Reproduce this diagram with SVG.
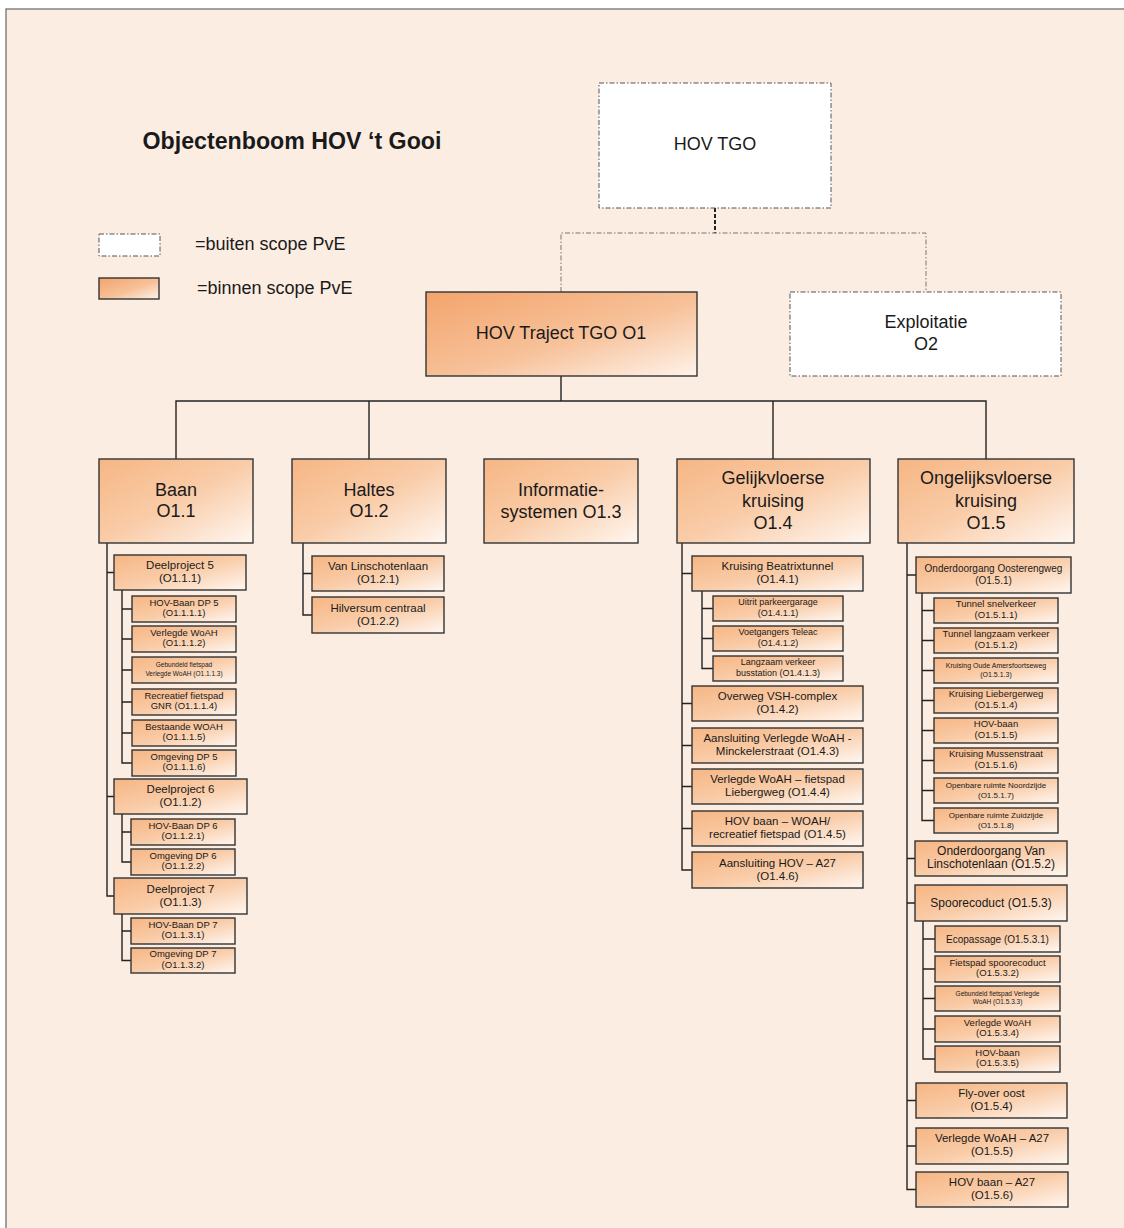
<svg xmlns="http://www.w3.org/2000/svg" width="1124" height="1228" viewBox="0 0 1124 1228">
  <defs>
    <linearGradient id="g" x1="0" y1="0" x2="1" y2="1">
      <stop offset="0" stop-color="#F6B684"/>
      <stop offset="0.5" stop-color="#F9CCA8"/>
      <stop offset="1" stop-color="#FFF7F1"/>
    </linearGradient>
    <linearGradient id="g1" x1="0" y1="0" x2="1" y2="1">
      <stop offset="0" stop-color="#F3A46C"/>
      <stop offset="0.55" stop-color="#F7C199"/>
      <stop offset="1" stop-color="#FEF3EA"/>
    </linearGradient>
    <style>
      text { font-family: "Liberation Sans", Arial, sans-serif; fill: #1a1a1a; text-anchor: middle; }
      .box { fill: url(#g); stroke: #333; stroke-width: 1.4; }
      .boxD { fill: url(#g1); stroke: #333; stroke-width: 1.4; }
      .out { fill: #fff; stroke: #555; stroke-width: 1; stroke-dasharray: 5 2 1.5 2; }
      .conn { fill: none; stroke: #222; stroke-width: 1.4; }
      .dconn { fill: none; stroke: #777; stroke-width: 1; stroke-dasharray: 5 2 1.5 2; }
      .dconnB { fill: none; stroke: #222; stroke-width: 2; stroke-dasharray: 4 2; }
      .t18 { font-size: 18px; }
      .t12 { font-size: 12px; }
      .t11 { font-size: 11.5px; }
      .t10 { font-size: 10px; }
      .t9 { font-size: 9.5px; }
      .t9s { font-size: 9px; }
      .t8 { font-size: 8px; }
      .t7 { font-size: 7px; }
      .t6 { font-size: 6.5px; }
    </style>
  </defs>

  <!-- page frame -->
  <rect x="0" y="0" width="1124" height="1228" fill="#fff"/>
  <rect x="6" y="9" width="1130" height="1230" fill="#FCEDE2" stroke="#666" stroke-width="1.2"/>

  <!-- title and legend -->
  <text x="292" y="149" style="font-size:23.2px;font-weight:bold">Objectenboom HOV ‘t Gooi</text>
  <g id="legend">
    <rect class="out" x="99" y="234" width="61" height="22"/>
    <text x="195" y="250" style="font-size:18px;text-anchor:start">=buiten scope PvE</text>
    <rect class="boxD" x="99" y="278" width="60" height="21"/>
    <text x="197" y="294" style="font-size:18px;text-anchor:start">=binnen scope PvE</text>
  </g>

  <!-- connectors -->
  <g id="connectors">
    <path class="dconnB" d="M715,208 V233"/>
    <path class="dconn" d="M561,292 V233 H926 V292"/>
    <path class="conn" d="M561,376 V401 M176,460 V401 H986 V460 M369,401 V460 M773,401 V460"/>
    <!-- Baan -->
    <path class="conn" d="M107,543 V896 H114 M107,572.5 H114 M107,796.5 H114"/>
    <path class="conn" d="M122,590 V763 H132 M122,609 H132 M122,639 H132 M122,670 H132 M122,702 H132 M122,733 H132"/>
    <path class="conn" d="M122,814 V862 H131 M122,832 H131"/>
    <path class="conn" d="M122,914 V960.5 H131 M122,931 H131"/>
    <!-- Haltes -->
    <path class="conn" d="M303,543 V615 H312 M303,573.5 H312"/>
    <!-- Gelijkvloerse -->
    <path class="conn" d="M682,543 V870 H692 M682,573.5 H692 M682,703.5 H692 M682,745.5 H692 M682,786.5 H692 M682,828.5 H692"/>
    <path class="conn" d="M702,591 V668.5 H713 M702,608.5 H713 M702,638.5 H713"/>
    <!-- Ongelijksvloerse -->
    <path class="conn" d="M907,543 V1189.5 H916 M907,575 H916 M907,858.5 H915 M907,903 H915 M907,1100.5 H916 M907,1146 H916"/>
    <path class="conn" d="M922,593 V820.5 H934 M922,610.5 H934 M922,640.5 H934 M922,670.5 H934 M922,700.5 H934 M922,730.5 H934 M922,760.5 H934 M922,790.5 H934"/>
    <path class="conn" d="M923,921 V1059 H935 M923,939 H935 M923,969 H935 M923,998.5 H935 M923,1029 H935"/>
  </g>

  <!-- top level -->
  <g id="hov-tgo">
    <rect class="out" x="599" y="83" width="232" height="125"/>
    <text class="t18" x="715" y="150">HOV TGO</text>
  </g>
  <g id="o1">
    <rect class="boxD" x="426" y="292" width="271" height="84"/>
    <text class="t18" x="561" y="339">HOV Traject TGO O1</text>
  </g>
  <g id="o2">
    <rect class="out" x="790" y="292" width="271" height="84"/>
    <text class="t18" x="926" y="328">Exploitatie</text>
    <text class="t18" x="926" y="350">O2</text>
  </g>

  <!-- level 2 -->
  <g id="o1-1">
    <rect class="box" x="99" y="459" width="154" height="84"/>
    <text class="t18" x="176" y="496">Baan</text>
    <text class="t18" x="176" y="517">O1.1</text>
  </g>
  <g id="o1-2">
    <rect class="box" x="292" y="459" width="154" height="84"/>
    <text class="t18" x="369" y="496">Haltes</text>
    <text class="t18" x="369" y="517">O1.2</text>
  </g>
  <g id="o1-3">
    <rect class="box" x="484" y="459" width="154" height="84"/>
    <text class="t18" x="561" y="496">Informatie-</text>
    <text class="t18" x="561" y="518">systemen O1.3</text>
  </g>
  <g id="o1-4">
    <rect class="box" x="677" y="459" width="193" height="84"/>
    <text class="t18" x="773" y="484">Gelijkvloerse</text>
    <text class="t18" x="773" y="506.5">kruising</text>
    <text class="t18" x="773" y="529">O1.4</text>
  </g>
  <g id="o1-5">
    <rect class="box" x="898" y="459" width="176" height="84"/>
    <text class="t18" x="986" y="484">Ongelijksvloerse</text>
    <text class="t18" x="986" y="506.5">kruising</text>
    <text class="t18" x="986" y="529">O1.5</text>
  </g>

  <!-- Baan subtree -->
  <g id="o1-1-1">
    <rect class="box" x="114" y="555" width="132" height="35"/>
    <text class="t11" x="180" y="569">Deelproject 5</text>
    <text class="t11" x="180" y="582">(O1.1.1)</text>
  </g>
  <g id="o1-1-1-1">
    <rect class="box" x="132" y="596" width="104" height="26"/>
    <text class="t9" x="184" y="605.5">HOV-Baan DP 5</text>
    <text class="t9" x="184" y="616">(O1.1.1.1)</text>
  </g>
  <g id="o1-1-1-2">
    <rect class="box" x="132" y="626" width="104" height="26"/>
    <text class="t9" x="184" y="635.5">Verlegde WoAH</text>
    <text class="t9" x="184" y="646">(O1.1.1.2)</text>
  </g>
  <g id="o1-1-1-3">
    <rect class="box" x="132" y="657" width="104" height="26"/>
    <text class="t6" x="184" y="667">Gebundeld fietspad</text>
    <text class="t6" x="184" y="675.5">Verlegde WoAH (O1.1.1.3)</text>
  </g>
  <g id="o1-1-1-4">
    <rect class="box" x="132" y="689" width="104" height="26"/>
    <text class="t9" x="184" y="698.5">Recreatief fietspad</text>
    <text class="t9" x="184" y="709">GNR (O1.1.1.4)</text>
  </g>
  <g id="o1-1-1-5">
    <rect class="box" x="132" y="720" width="104" height="26"/>
    <text class="t9" x="184" y="729.5">Bestaande WOAH</text>
    <text class="t9" x="184" y="740">(O1.1.1.5)</text>
  </g>
  <g id="o1-1-1-6">
    <rect class="box" x="132" y="750" width="104" height="26"/>
    <text class="t9" x="184" y="759.5">Omgeving DP 5</text>
    <text class="t9" x="184" y="770">(O1.1.1.6)</text>
  </g>
  <g id="o1-1-2">
    <rect class="box" x="114" y="779" width="133" height="35"/>
    <text class="t11" x="180.5" y="793">Deelproject 6</text>
    <text class="t11" x="180.5" y="806">(O1.1.2)</text>
  </g>
  <g id="o1-1-2-1">
    <rect class="box" x="131" y="819" width="104" height="26"/>
    <text class="t9" x="183" y="828.5">HOV-Baan DP 6</text>
    <text class="t9" x="183" y="839">(O1.1.2.1)</text>
  </g>
  <g id="o1-1-2-2">
    <rect class="box" x="131" y="849" width="104" height="26"/>
    <text class="t9" x="183" y="858.5">Omgeving DP 6</text>
    <text class="t9" x="183" y="869">(O1.1.2.2)</text>
  </g>
  <g id="o1-1-3">
    <rect class="box" x="114" y="878" width="133" height="36"/>
    <text class="t11" x="180.5" y="892.5">Deelproject 7</text>
    <text class="t11" x="180.5" y="905.5">(O1.1.3)</text>
  </g>
  <g id="o1-1-3-1">
    <rect class="box" x="131" y="918" width="104" height="26"/>
    <text class="t9" x="183" y="927.5">HOV-Baan DP 7</text>
    <text class="t9" x="183" y="938">(O1.1.3.1)</text>
  </g>
  <g id="o1-1-3-2">
    <rect class="box" x="131" y="948" width="104" height="25"/>
    <text class="t9" x="183" y="957">Omgeving DP 7</text>
    <text class="t9" x="183" y="967.5">(O1.1.3.2)</text>
  </g>

  <!-- Haltes subtree -->
  <g id="o1-2-1">
    <rect class="box" x="312" y="556" width="132" height="35"/>
    <text class="t11" x="378" y="570">Van Linschotenlaan</text>
    <text class="t11" x="378" y="583">(O1.2.1)</text>
  </g>
  <g id="o1-2-2">
    <rect class="box" x="312" y="597" width="132" height="36"/>
    <text class="t11" x="378" y="611.5">Hilversum centraal</text>
    <text class="t11" x="378" y="624.5">(O1.2.2)</text>
  </g>

  <!-- Gelijkvloerse subtree -->
  <g id="o1-4-1">
    <rect class="box" x="692" y="556" width="171" height="35"/>
    <text class="t11" x="777.5" y="570">Kruising Beatrixtunnel</text>
    <text class="t11" x="777.5" y="583">(O1.4.1)</text>
  </g>
  <g id="o1-4-1-1">
    <rect class="box" x="713" y="596" width="130" height="25"/>
    <text class="t9s" x="778" y="605">Uitrit parkeergarage</text>
    <text class="t9s" x="778" y="615.5">(O1.4.1.1)</text>
  </g>
  <g id="o1-4-1-2">
    <rect class="box" x="713" y="626" width="130" height="25"/>
    <text class="t9s" x="778" y="635">Voetgangers Teleac</text>
    <text class="t9s" x="778" y="645.5">(O1.4.1.2)</text>
  </g>
  <g id="o1-4-1-3">
    <rect class="box" x="713" y="656" width="130" height="25"/>
    <text class="t9s" x="778" y="665">Langzaam verkeer</text>
    <text class="t9s" x="778" y="675.5">busstation (O1.4.1.3)</text>
  </g>
  <g id="o1-4-2">
    <rect class="box" x="692" y="686" width="171" height="35"/>
    <text class="t11" x="777.5" y="700">Overweg VSH-complex</text>
    <text class="t11" x="777.5" y="713">(O1.4.2)</text>
  </g>
  <g id="o1-4-3">
    <rect class="box" x="692" y="728" width="171" height="35"/>
    <text class="t11" x="777.5" y="742">Aansluiting Verlegde WoAH -</text>
    <text class="t11" x="777.5" y="755">Minckelerstraat (O1.4.3)</text>
  </g>
  <g id="o1-4-4">
    <rect class="box" x="692" y="769" width="171" height="35"/>
    <text class="t11" x="777.5" y="783">Verlegde WoAH – fietspad</text>
    <text class="t11" x="777.5" y="796">Liebergweg (O1.4.4)</text>
  </g>
  <g id="o1-4-5">
    <rect class="box" x="692" y="811" width="171" height="35"/>
    <text class="t11" x="777.5" y="825">HOV baan – WOAH/</text>
    <text class="t11" x="777.5" y="838">recreatief fietspad (O1.4.5)</text>
  </g>
  <g id="o1-4-6">
    <rect class="box" x="692" y="852" width="171" height="36"/>
    <text class="t11" x="777.5" y="866.5">Aansluiting HOV – A27</text>
    <text class="t11" x="777.5" y="879.5">(O1.4.6)</text>
  </g>

  <!-- Ongelijksvloerse subtree -->
  <g id="o1-5-1">
    <rect class="box" x="916" y="557" width="155" height="36"/>
    <text class="t10" x="993.5" y="571.5">Onderdoorgang Oosterengweg</text>
    <text class="t10" x="993.5" y="584">(O1.5.1)</text>
  </g>
  <g id="o1-5-1-1">
    <rect class="box" x="934" y="598" width="124" height="25"/>
    <text class="t9" x="996" y="607">Tunnel snelverkeer</text>
    <text class="t9" x="996" y="617.5">(O1.5.1.1)</text>
  </g>
  <g id="o1-5-1-2">
    <rect class="box" x="934" y="628" width="124" height="25"/>
    <text class="t9" x="996" y="637">Tunnel langzaam verkeer</text>
    <text class="t9" x="996" y="647.5">(O1.5.1.2)</text>
  </g>
  <g id="o1-5-1-3">
    <rect class="box" x="934" y="658" width="124" height="25"/>
    <text class="t7" x="996" y="667.5">Kruising Oude Amersfoortseweg</text>
    <text class="t7" x="996" y="676.5">(O1.5.1.3)</text>
  </g>
  <g id="o1-5-1-4">
    <rect class="box" x="934" y="688" width="124" height="25"/>
    <text class="t9" x="996" y="697">Kruising Liebergerweg</text>
    <text class="t9" x="996" y="707.5">(O1.5.1.4)</text>
  </g>
  <g id="o1-5-1-5">
    <rect class="box" x="934" y="718" width="124" height="25"/>
    <text class="t9" x="996" y="727">HOV-baan</text>
    <text class="t9" x="996" y="737.5">(O1.5.1.5)</text>
  </g>
  <g id="o1-5-1-6">
    <rect class="box" x="934" y="748" width="124" height="25"/>
    <text class="t9" x="996" y="757">Kruising Mussenstraat</text>
    <text class="t9" x="996" y="767.5">(O1.5.1.6)</text>
  </g>
  <g id="o1-5-1-7">
    <rect class="box" x="934" y="778" width="124" height="25"/>
    <text class="t8" x="996" y="787.5">Openbare ruimte Noordzijde</text>
    <text class="t8" x="996" y="797.5">(O1.5.1.7)</text>
  </g>
  <g id="o1-5-1-8">
    <rect class="box" x="934" y="808" width="124" height="25"/>
    <text class="t8" x="996" y="817.5">Openbare ruimte Zuidzijde</text>
    <text class="t8" x="996" y="827.5">(O1.5.1.8)</text>
  </g>
  <g id="o1-5-2">
    <rect class="box" x="915" y="841" width="152" height="35"/>
    <text class="t12" x="991" y="855">Onderdoorgang Van</text>
    <text class="t12" x="991" y="867.5">Linschotenlaan (O1.5.2)</text>
  </g>
  <g id="o1-5-3">
    <rect class="box" x="915" y="885" width="152" height="36"/>
    <text class="t12" x="991" y="906.5">Spoorecoduct (O1.5.3)</text>
  </g>
  <g id="o1-5-3-1">
    <rect class="box" x="935" y="926" width="125" height="26"/>
    <text class="t10" x="997.5" y="942.5">Ecopassage (O1.5.3.1)</text>
  </g>
  <g id="o1-5-3-2">
    <rect class="box" x="935" y="956" width="125" height="26"/>
    <text class="t9" x="997.5" y="965.5">Fietspad spoorecoduct</text>
    <text class="t9" x="997.5" y="976">(O1.5.3.2)</text>
  </g>
  <g id="o1-5-3-3">
    <rect class="box" x="935" y="986" width="125" height="25"/>
    <text class="t6" x="997.5" y="996">Gebundeld fietspad Verlegde</text>
    <text class="t6" x="997.5" y="1004">WoAH (O1.5.3.3)</text>
  </g>
  <g id="o1-5-3-4">
    <rect class="box" x="935" y="1016" width="125" height="26"/>
    <text class="t9" x="997.5" y="1025.5">Verlegde WoAH</text>
    <text class="t9" x="997.5" y="1036">(O1.5.3.4)</text>
  </g>
  <g id="o1-5-3-5">
    <rect class="box" x="935" y="1046" width="125" height="26"/>
    <text class="t9" x="997.5" y="1055.5">HOV-baan</text>
    <text class="t9" x="997.5" y="1066">(O1.5.3.5)</text>
  </g>
  <g id="o1-5-4">
    <rect class="box" x="916" y="1083" width="151" height="35"/>
    <text class="t11" x="991.5" y="1096.5">Fly-over oost</text>
    <text class="t11" x="991.5" y="1109.5">(O1.5.4)</text>
  </g>
  <g id="o1-5-5">
    <rect class="box" x="916" y="1128" width="152" height="36"/>
    <text class="t11" x="992" y="1142">Verlegde WoAH – A27</text>
    <text class="t11" x="992" y="1155">(O1.5.5)</text>
  </g>
  <g id="o1-5-6">
    <rect class="box" x="916" y="1172" width="152" height="35"/>
    <text class="t11" x="992" y="1186">HOV baan – A27</text>
    <text class="t11" x="992" y="1199">(O1.5.6)</text>
  </g>
</svg>
